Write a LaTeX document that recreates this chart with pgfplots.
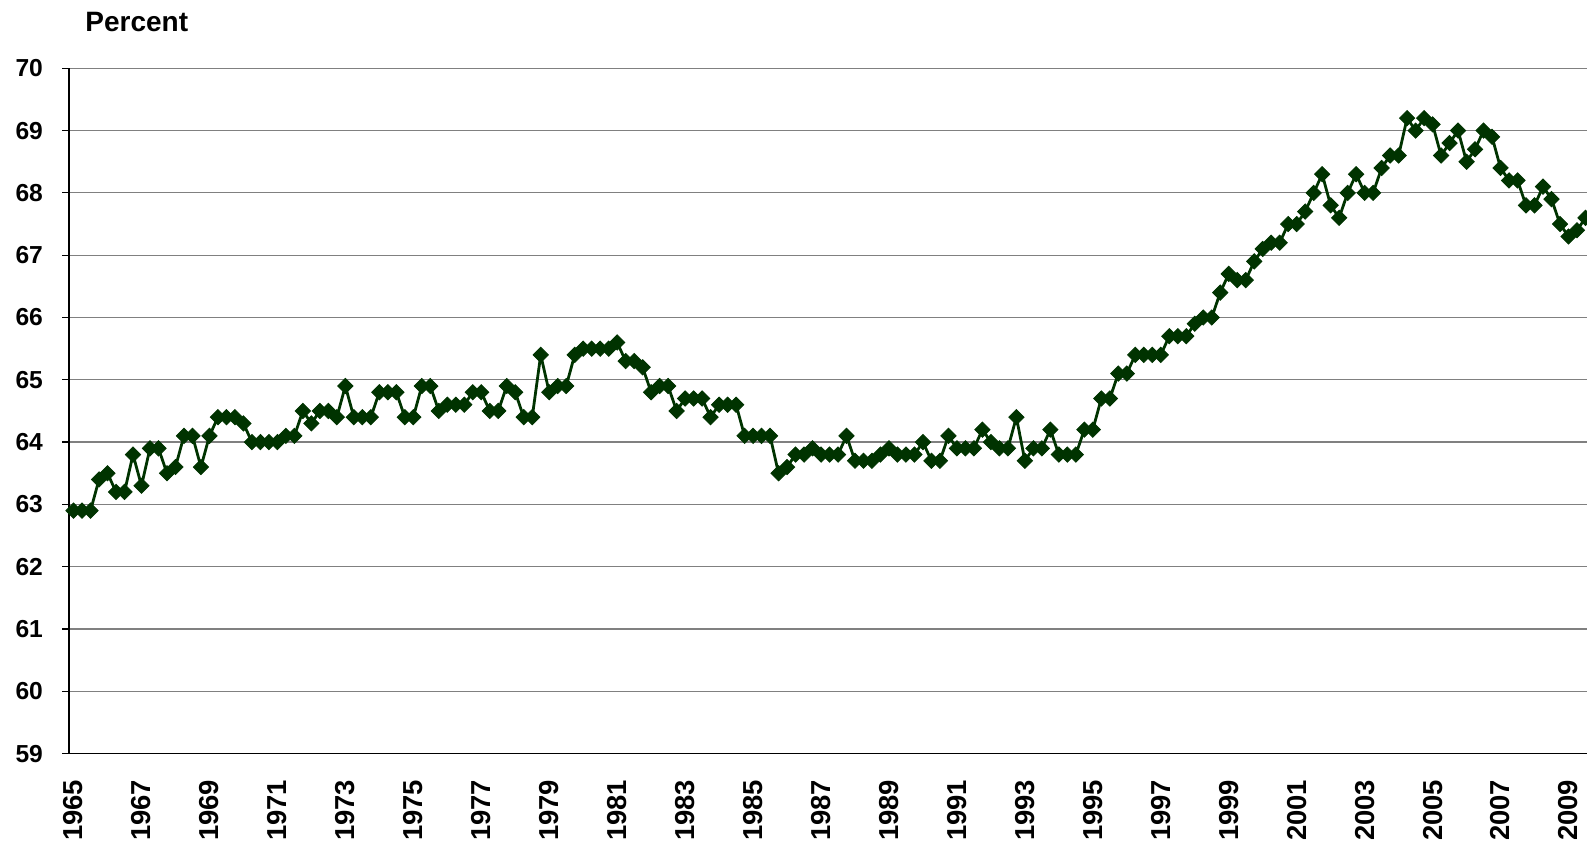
\documentclass[border=0pt]{standalone}
\usepackage{fontspec}
\setmainfont{Liberation Sans}
\usepackage{pgfplots}
\pgfplotsset{compat=1.18}
\usepackage{pgfplotstable}
\definecolor{ser}{HTML}{003300}
\definecolor{gridc}{HTML}{808080}

\pgfplotstableread{
y
62.9
62.9
62.9
63.4
63.5
63.2
63.2
63.8
63.3
63.9
63.9
63.5
63.6
64.1
64.1
63.6
64.1
64.4
64.4
64.4
64.3
64.0
64.0
64.0
64.0
64.1
64.1
64.5
64.3
64.5
64.5
64.4
64.9
64.4
64.4
64.4
64.8
64.8
64.8
64.4
64.4
64.9
64.9
64.5
64.6
64.6
64.6
64.8
64.8
64.5
64.5
64.9
64.8
64.4
64.4
65.4
64.8
64.9
64.9
65.4
65.5
65.5
65.5
65.5
65.6
65.3
65.3
65.2
64.8
64.9
64.9
64.5
64.7
64.7
64.7
64.4
64.6
64.6
64.6
64.1
64.1
64.1
64.1
63.5
63.6
63.8
63.8
63.9
63.8
63.8
63.8
64.1
63.7
63.7
63.7
63.8
63.9
63.8
63.8
63.8
64.0
63.7
63.7
64.1
63.9
63.9
63.9
64.2
64.0
63.9
63.9
64.4
63.7
63.9
63.9
64.2
63.8
63.8
63.8
64.2
64.2
64.7
64.7
65.1
65.1
65.4
65.4
65.4
65.4
65.7
65.7
65.7
65.9
66.0
66.0
66.4
66.7
66.6
66.6
66.9
67.1
67.2
67.2
67.5
67.5
67.7
68.0
68.3
67.8
67.6
68.0
68.3
68.0
68.0
68.4
68.6
68.6
69.2
69.0
69.2
69.1
68.6
68.8
69.0
68.5
68.7
69.0
68.9
68.4
68.2
68.2
67.8
67.8
68.1
67.9
67.5
67.3
67.4
67.6
}\datatable

\begin{document}
\begin{tikzpicture}
\begin{axis}[
  name=ax,
  at={(0,0)}, anchor=south west,
  scale only axis,
  width=758.85pt, height=342.65pt,
  xmin=-0.5, xmax=178.18,
  ymin=59, ymax=70,
  clip=false,
  axis x line*=bottom, axis y line*=left,
  axis line style={black, line width=0.8pt, -},
  ytick={59,60,...,70},
  yticklabels={59,60,61,62,63,64,65,66,67,68,69,70},
  ymajorgrids,
  major grid style={gridc, line width=0.6pt},
  xtick={0,8,...,176},
  xticklabels={1965,1967,1969,1971,1973,1975,1977,1979,1981,1983,1985,1987,1989,1991,1993,1995,1997,1999,2001,2003,2005,2007,2009},
  minor xtick={-0.5,0.5,...,177.5},
  tick align=outside,
  major tick length=3.5pt,
  minor tick length=3pt,
  xtick style={draw=none},
  ytick style={black, line width=0.6pt},
  minor tick style={gridc, line width=0.6pt},
  yticklabel style={anchor=east, inner sep=0pt, font=\fontsize{12.3}{14}\selectfont\bfseries},
  yticklabel shift=9.5pt,
  xticklabel style={rotate=90, anchor=east, inner sep=0pt, font=\fontsize{13.7}{15}\selectfont\bfseries},
  xticklabel shift=9.5pt,
]
\addplot[color=ser, line width=1.4pt, mark=square*, mark size=2.7pt,
  mark options={rotate=45, solid, fill=ser, draw=ser, line width=0.4pt}]
  table[x expr=\coordindex, y=y] {\datatable};
\end{axis}
\node[anchor=base west, inner sep=0pt, font=\fontsize{14}{16}\selectfont\bfseries]
  at ([xshift=7.85pt, yshift=18.3pt]ax.north west) {Percent};
\pgfresetboundingbox
\path[use as bounding box] ([xshift=-34.65pt, yshift=-45.85pt]ax.south west) rectangle ([yshift=34.15pt]ax.north east);
\end{tikzpicture}
\end{document}
